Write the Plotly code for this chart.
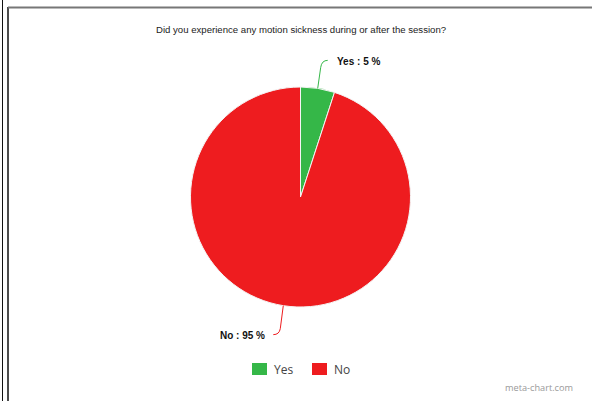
import math
import plotly.graph_objects as go

# Survey answers
labels = ["Yes", "No"]
values = [5, 95]
colors = ["#35b748", "#ee1c1f"]

title_text = "Did you experience any motion sickness during or after the session?"
credit_text = "meta-chart.com"

W, H = 592, 401

# Pie geometry in pixels
cx, cy, r = 300.5, 197.0, 110.0


def px(x):
    return x / W


def py(y):
    return 1 - y / H


fig = go.Figure()
fig.add_trace(go.Pie(
    labels=labels,
    values=values,
    marker=dict(colors=colors, line=dict(color="#f4f4f4", width=1)),
    sort=False,
    direction="clockwise",
    rotation=0,
    textinfo="none",
    hoverinfo="label+percent",
    domain=dict(x=[px(cx - r), px(cx + r)], y=[py(cy + r), py(cy - r)]),
    showlegend=False,
))

# Callout lines and labels, anchored at the middle of each slice
total = sum(values)
start = 0.0
shapes = []
annotations = []
for i, (lab, val) in enumerate(zip(labels, values)):
    frac = val / total
    mid = (start + frac / 2) * 2 * math.pi
    start += frac
    sx = cx + r * math.sin(mid)
    sy = cy - r * math.cos(mid)
    pct = round(100 * frac)
    if math.cos(mid) > 0:
        # slice points upward: line rises then bends right
        ex, ey = sx + 3, sy - 21
        qx, qy = ex + 1, ey - 7
        fx, fy = qx + 6, qy
        ax, xanchor = fx + 7, "left"
    else:
        # slice points downward: line drops then bends left
        ex, ey = sx - 3, sy + 23
        qx, qy = ex - 1, ey + 6
        fx, fy = qx - 6, qy
        ax, xanchor = fx - 6, "right"
    path = (f"M {px(sx)},{py(sy)} L {px(ex)},{py(ey)} "
            f"Q {px(qx)},{py(qy)} {px(fx)},{py(fy)}")
    shapes.append(dict(type="path", path=path, xref="paper", yref="paper",
                       line=dict(color=colors[i], width=1)))
    annotations.append(dict(
        x=px(ax), y=py(fy + 1), xref="paper", yref="paper",
        text=f"<b>{lab} : {pct} %</b>", showarrow=False,
        xanchor=xanchor, yanchor="middle",
        font=dict(family="Liberation Sans, Arial", size=10, color="#111"),
    ))

# Legend row: colour box followed by the answer label
legend_x = [252, 312]
legend_y = 369
for i, lab in enumerate(labels):
    x0 = legend_x[i]
    shapes.append(dict(type="rect", xref="paper", yref="paper",
                       x0=px(x0), x1=px(x0 + 15),
                       y0=py(legend_y + 6), y1=py(legend_y - 6),
                       fillcolor=colors[i], line=dict(width=0)))
    annotations.append(dict(
        x=px(x0 + 20), y=py(legend_y), xref="paper", yref="paper",
        text=lab, showarrow=False, xanchor="left", yanchor="middle",
        font=dict(family="Open Sans, sans-serif", size=12, color="#444"),
    ))

# Title and credit
annotations.append(dict(
    x=px(301), y=py(29), xref="paper", yref="paper", text=title_text,
    showarrow=False, xanchor="center", yanchor="middle",
    font=dict(family="Liberation Sans, Arial", size=9.6, color="#222"),
))
annotations.append(dict(
    x=px(575), y=py(387), xref="paper", yref="paper", text=credit_text,
    showarrow=False, xanchor="right", yanchor="middle",
    font=dict(family="Open Sans, sans-serif", size=9.2, color="#999"),
))

# Window frame lines
shapes += [
    dict(type="line", xref="paper", yref="paper", x0=px(2.5), x1=px(2.5),
         y0=0, y1=1, line=dict(color="#111", width=1)),
    dict(type="line", xref="paper", yref="paper", x0=px(8), x1=px(8),
         y0=0, y1=py(7), line=dict(color="#111", width=1.5)),
    dict(type="line", xref="paper", yref="paper", x0=px(8), x1=1,
         y0=py(7.5), y1=py(7.5), line=dict(color="#777", width=2)),
]

fig.update_layout(
    width=W, height=H,
    margin=dict(l=0, r=0, t=0, b=0),
    paper_bgcolor="white",
    plot_bgcolor="white",
    shapes=shapes,
    annotations=annotations,
    showlegend=False,
)

fig.write_html("out.html")
